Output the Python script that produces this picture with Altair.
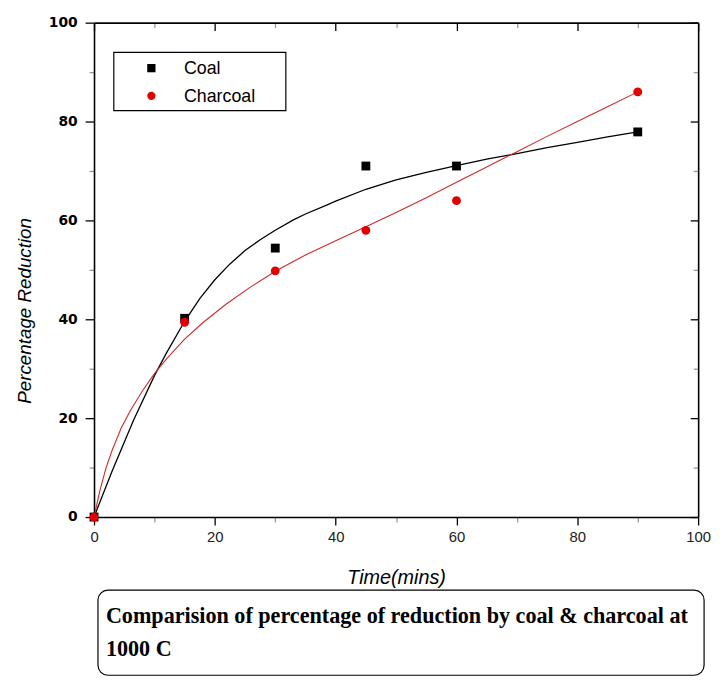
import altair as alt
import pandas as pd

# ---- data ----
time_points = [0, 15, 30, 45, 60, 90]
coal_values = [0, 40.2, 54.4, 71.0, 71.0, 77.9]
charcoal_values = [0, 39.4, 49.8, 58.0, 64.0, 86.0]

coal_fit_x = [0, 3, 6.5, 10, 12, 15, 17.5, 20, 22.5, 25, 27.5, 30, 33, 35, 38.5, 40,
              45, 50, 55, 60, 65, 70, 75, 80, 85, 90]
coal_fit_y = [0, 9.3, 19.5, 28.6, 33.2, 39.6, 44.2, 48.0, 51.2, 53.9, 56.1, 58.0, 60.1, 61.3,
              63.1, 63.9, 66.3, 68.2, 69.7, 71.1, 72.4, 73.5, 74.7, 75.8, 76.9, 77.9]

charcoal_fit_x = [0, 1, 2, 3, 4.5, 6, 8, 10, 12, 15, 18, 22, 26, 30, 35, 40, 45, 50, 55,
                  60, 65, 70, 75, 80, 85, 90]
charcoal_fit_y = [0, 5.5, 10, 13.5, 18, 21.5, 25.5, 29, 32, 36, 39.3, 43.2, 46.6, 49.7, 53,
                  55.9, 58.7, 61.6, 64.6, 67.7, 70.8, 73.9, 77, 80, 83, 86]

series_names = ["Coal", "Charcoal"]
series_colors = ["black", "#e00000"]
series_shapes = ["square", "circle"]
x_ticks = list(range(0, 101, 10))
y_ticks = list(range(0, 101, 10))
x_title = "Time(mins)"
y_title = "Percentage Reduction"
caption_line1 = "Comparision of percentage of reduction by coal & charcoal at"
caption_line2 = "1000 C"

# ---- tables ----
points = pd.DataFrame({
    "time": time_points * 2,
    "value": coal_values + charcoal_values,
    "series": ["Coal"] * len(time_points) + ["Charcoal"] * len(time_points),
})
coal_fit = pd.DataFrame({"time": coal_fit_x, "value": coal_fit_y})
charcoal_fit = pd.DataFrame({"time": charcoal_fit_x, "value": charcoal_fit_y})
one_row = pd.DataFrame({"k": [0]})

W, H = 611, 500
xscale = alt.Scale(domain=[0, 100], nice=False, zero=False)
yscale = alt.Scale(domain=[0, 100], nice=False, zero=False)

major = "datum.value % 20 == 0"

x_axis_main = alt.Axis(
    values=x_ticks, orient="bottom", title=x_title, grid=False,
    labelExpr=f"{major} ? datum.label : ''",
    tickSize={"condition": {"test": major, "value": 8}, "value": 5},
    tickColor={"condition": {"test": major, "value": "black"}, "value": "#999999"},
    tickWidth=1.3, domainColor="black", domainWidth=1.6,
    labelFont="Liberation Sans", labelFontSize=15, labelColor="#222222",
    labelPadding=5, labelFlush=False,
    titleFont="Liberation Sans", titleFontSize=20, titleFontStyle="italic",
    titleFontWeight="normal", titleColor="black", titlePadding=23,
)
y_axis_main = alt.Axis(
    values=y_ticks, orient="left", title=y_title, grid=False,
    labelExpr=f"{major} ? datum.label : ''",
    tickSize={"condition": {"test": major, "value": 9}, "value": 5},
    tickColor={"condition": {"test": major, "value": "black"}, "value": "#999999"},
    tickWidth=1.3, domainColor="black", domainWidth=1.6,
    labelFont="DejaVu Sans", labelFontSize=14, labelFontWeight="bold",
    labelColor="black", labelPadding=8, labelFlush=False,
    titleFont="Liberation Sans", titleFontSize=19, titleFontStyle="italic",
    titleFontWeight="normal", titleColor="black",
    titleX=-60, titleY=291, titleAngle=270, titleAlign="center", titleBaseline="bottom",
)
x_axis_top = alt.Axis(
    values=x_ticks, orient="bottom", offset=-H, title=None, labels=False, grid=False,
    tickSize={"condition": {"test": major, "value": 8}, "value": 5},
    tickColor={"condition": {"test": major, "value": "black"}, "value": "#999999"},
    tickWidth=1.3, domainColor="black", domainWidth=1.6,
)
y_axis_right = alt.Axis(
    values=y_ticks, orient="left", offset=-W, title=None, labels=False, grid=False,
    tickSize={"condition": {"test": major, "value": 8}, "value": 5},
    tickColor={"condition": {"test": major, "value": "black"}, "value": "#999999"},
    tickWidth=1.3, domainColor="black", domainWidth=1.6,
)

coal_line = alt.Chart(coal_fit).mark_line(color="black", strokeWidth=1.3).encode(
    x=alt.X("time:Q", scale=xscale, axis=x_axis_main),
    y=alt.Y("value:Q", scale=yscale, axis=y_axis_main),
    order="time:Q",
)
charcoal_line = alt.Chart(charcoal_fit).mark_line(color="#cc2a2a", strokeWidth=1.1).encode(
    x=alt.X("time:Q", scale=xscale, axis=None),
    y=alt.Y("value:Q", scale=yscale, axis=None),
    order="time:Q",
)

pts = alt.Chart(points).mark_point(filled=True, size=80, opacity=1).encode(
    x=alt.X("time:Q", scale=xscale, axis=x_axis_top),
    y=alt.Y("value:Q", scale=yscale, axis=y_axis_right),
    color=alt.Color("series:N", scale=alt.Scale(domain=series_names, range=series_colors),
                    legend=None),
    shape=alt.Shape("series:N", scale=alt.Scale(domain=series_names, range=series_shapes),
                    legend=None),
)

# ---- legend box (drawn as annotation) ----
legend_layers = [
    alt.Chart(one_row).mark_rect(fill="white", stroke="black", strokeWidth=1.2).encode(
        x=alt.value(20), x2=alt.value(194), y=alt.value(30), y2=alt.value(89))
]
for i, (name, col, shp) in enumerate(zip(series_names, series_colors, series_shapes)):
    row_y = 46 + 28 * i
    legend_layers.append(
        alt.Chart(one_row).mark_point(filled=True, opacity=1, size=70, shape=shp, color=col)
        .encode(x=alt.value(58), y=alt.value(row_y))
    )
    legend_layers.append(
        alt.Chart(one_row).mark_text(align="left", baseline="middle", font="Liberation Sans",
                                     fontSize=18, color="black")
        .encode(x=alt.value(91), y=alt.value(row_y + 1), text=alt.value(name))
    )

# ---- caption box ----
caption_box = alt.Chart(one_row).mark_rect(
    fill="white", stroke="black", strokeWidth=1.2, cornerRadius=10
).encode(x=alt.value(4), x2=alt.value(617), y=alt.value(574), y2=alt.value(660))
caption1 = alt.Chart(one_row).mark_text(
    align="left", baseline="alphabetic", font="Liberation Serif", fontWeight="bold",
    fontSize=22.4, color="black"
).encode(x=alt.value(12), y=alt.value(607), text=alt.value(caption_line1))
caption2 = alt.Chart(one_row).mark_text(
    align="left", baseline="alphabetic", font="Liberation Serif", fontWeight="bold",
    fontSize=22.4, color="black"
).encode(x=alt.value(12), y=alt.value(641), text=alt.value(caption_line2))

chart = alt.layer(
    coal_line, charcoal_line, pts, *legend_layers, caption_box, caption1, caption2
).resolve_axis(x="independent", y="independent").properties(
    width=W, height=H,
    autosize=alt.AutoSizeParams(type="none"),
    padding={"left": 87, "top": 11, "right": 14, "bottom": 163},
    background="white",
).configure_view(strokeWidth=0)

chart.save("out.html", embed_options={"renderer": "svg", "actions": False})
